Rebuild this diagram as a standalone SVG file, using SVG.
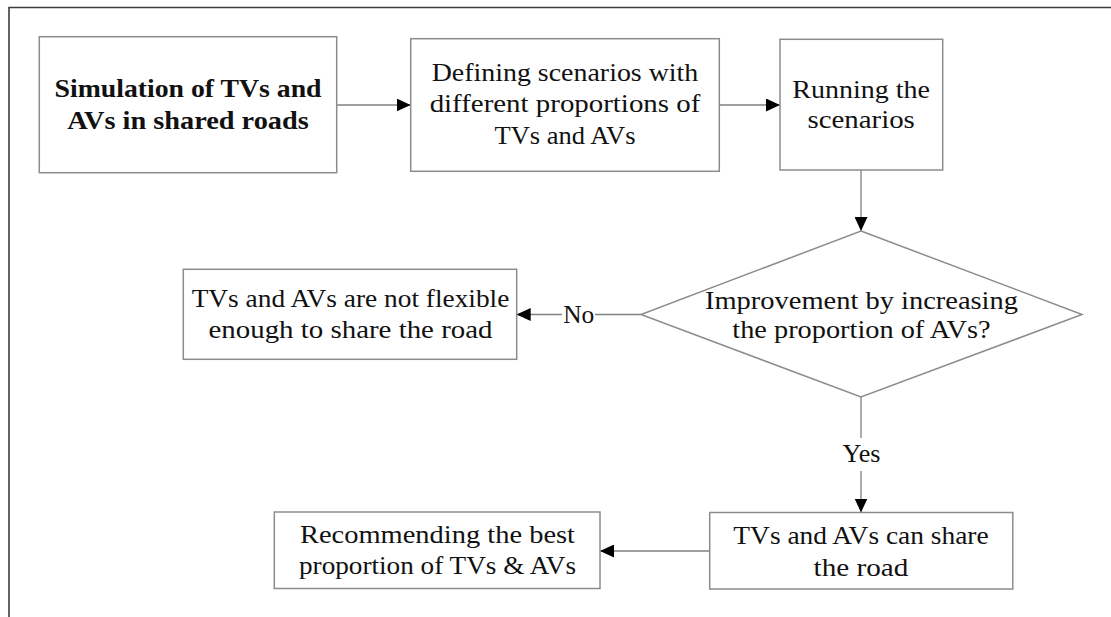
<svg xmlns="http://www.w3.org/2000/svg" width="1111" height="617" viewBox="0 0 1111 617">
  <style>
    .frame { fill: none; stroke: #3c3c3c; stroke-width: 1.6; }
    .box { fill: #ffffff; stroke: #8c8c8c; stroke-width: 1.5; }
    .conn { fill: none; stroke: #808080; stroke-width: 1.3; }
    .txt { font-family: "Liberation Serif", "DejaVu Serif", serif; font-size: 26px; fill: #111111; text-anchor: middle; }
    .bold { font-weight: bold; }
  </style>
  <defs>
    <marker id="arrow" markerUnits="userSpaceOnUse" markerWidth="14" markerHeight="13" refX="14" refY="6.5" orient="auto">
      <path d="M0,0 L14,6.5 L0,13 z" fill="#000000"/>
    </marker>
  </defs>

  <rect width="1111" height="617" fill="#ffffff"/>

  <!-- page frame: top and left rules -->
  <path class="frame" d="M9,617 L9,7.5 L1111,7.5"/>

  <!-- connectors -->
  <g id="connectors">
    <line class="conn" x1="336.7" y1="105" x2="410.7" y2="105" marker-end="url(#arrow)"/>
    <line class="conn" x1="719.3" y1="105" x2="780" y2="105" marker-end="url(#arrow)"/>
    <line class="conn" x1="861" y1="170" x2="861" y2="231" marker-end="url(#arrow)"/>
    <line class="conn" x1="641" y1="314.5" x2="595" y2="314.5"/>
    <line class="conn" x1="562" y1="314.5" x2="516.7" y2="314.5" marker-end="url(#arrow)"/>
    <text class="txt" x="578.8" y="322.5" textLength="31" lengthAdjust="spacingAndGlyphs">No</text>
    <line class="conn" x1="861" y1="397" x2="861" y2="438"/>
    <line class="conn" x1="861" y1="471" x2="861" y2="512.5" marker-end="url(#arrow)"/>
    <text class="txt" x="861.4" y="461.7" textLength="38" lengthAdjust="spacingAndGlyphs">Yes</text>
    <line class="conn" x1="709.7" y1="551" x2="600" y2="551" marker-end="url(#arrow)"/>
  </g>

  <!-- nodes -->
  <g id="simulation">
    <rect class="box" x="39.3" y="36.7" width="297.4" height="136"/>
    <text class="txt bold" x="188" y="97" textLength="267" lengthAdjust="spacingAndGlyphs">Simulation of TVs and</text>
    <text class="txt bold" x="188" y="128.5" textLength="241.6" lengthAdjust="spacingAndGlyphs">AVs in shared roads</text>
  </g>

  <g id="defining-scenarios">
    <rect class="box" x="410.7" y="38.7" width="308.6" height="132.6"/>
    <text class="txt" x="565" y="81" textLength="266.7" lengthAdjust="spacingAndGlyphs">Defining scenarios with</text>
    <text class="txt" x="565" y="112" textLength="270.7" lengthAdjust="spacingAndGlyphs">different proportions of</text>
    <text class="txt" x="565" y="144" textLength="141" lengthAdjust="spacingAndGlyphs">TVs and AVs</text>
  </g>

  <g id="running-scenarios">
    <rect class="box" x="780" y="39.3" width="162.7" height="130.7"/>
    <text class="txt" x="861.2" y="97.7" textLength="137.7" lengthAdjust="spacingAndGlyphs">Running the</text>
    <text class="txt" x="861.2" y="128.3" textLength="107.3" lengthAdjust="spacingAndGlyphs">scenarios</text>
  </g>

  <g id="improvement-decision">
    <polygon class="box" points="861,231 1082,314.5 861,397 641,314.5"/>
    <text class="txt" x="861.5" y="309.3" textLength="313" lengthAdjust="spacingAndGlyphs">Improvement by increasing</text>
    <text class="txt" x="861.5" y="338.3" textLength="258.3" lengthAdjust="spacingAndGlyphs">the proportion of AVs?</text>
  </g>

  <g id="not-flexible">
    <rect class="box" x="183.3" y="269.3" width="333.4" height="90"/>
    <text class="txt" x="350.5" y="307.3" textLength="317.7" lengthAdjust="spacingAndGlyphs">TVs and AVs are not flexible</text>
    <text class="txt" x="350.5" y="338.3" textLength="284" lengthAdjust="spacingAndGlyphs">enough to share the road</text>
  </g>

  <g id="can-share">
    <rect class="box" x="709.7" y="512.5" width="303.1" height="76.5"/>
    <text class="txt" x="861" y="543.9" textLength="255.3" lengthAdjust="spacingAndGlyphs">TVs and AVs can share</text>
    <text class="txt" x="861" y="576" textLength="94.8" lengthAdjust="spacingAndGlyphs">the road</text>
  </g>

  <g id="recommending">
    <rect class="box" x="274.3" y="512" width="325.7" height="76.5"/>
    <text class="txt" x="437.5" y="542.7" textLength="275" lengthAdjust="spacingAndGlyphs">Recommending the best</text>
    <text class="txt" x="437.5" y="574" textLength="277" lengthAdjust="spacingAndGlyphs">proportion of TVs &amp; AVs</text>
  </g>
</svg>
